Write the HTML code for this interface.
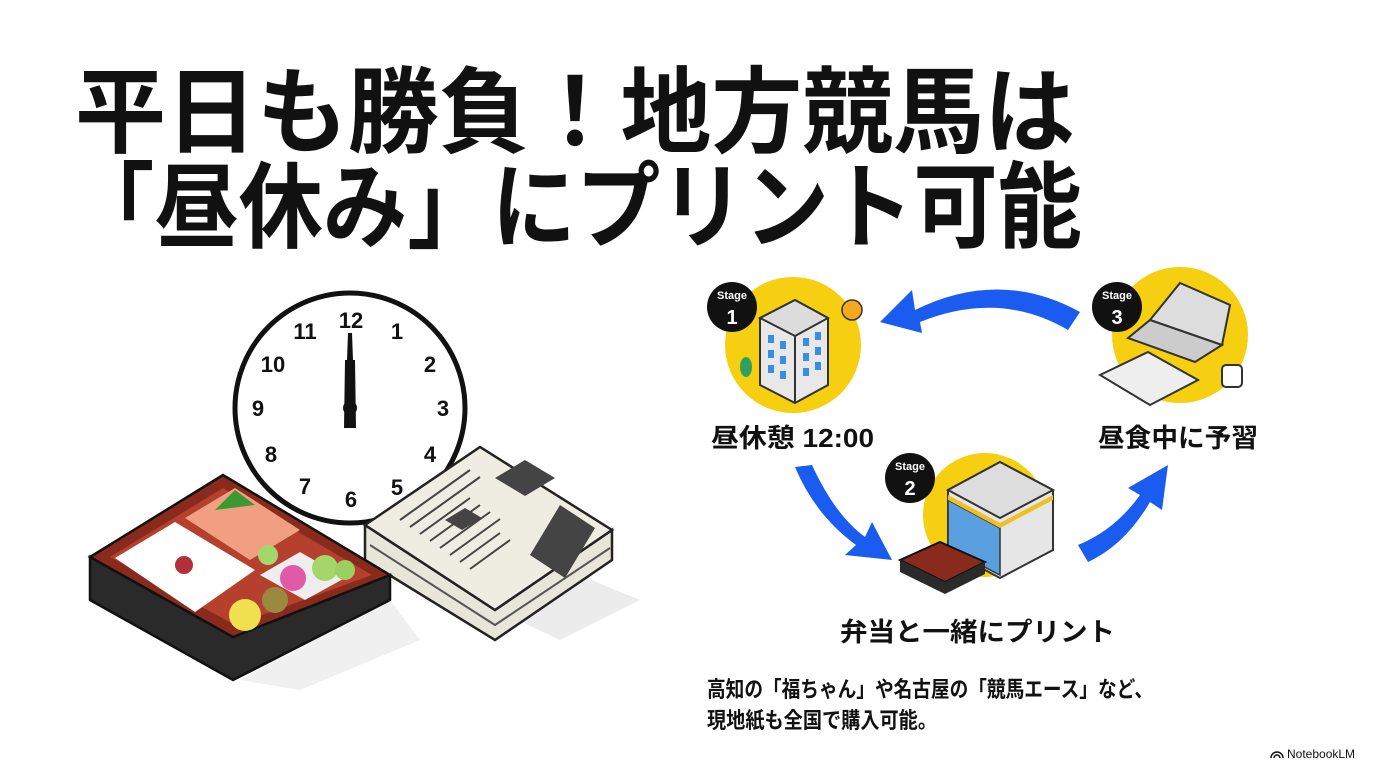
<!DOCTYPE html>
<html><head><meta charset="utf-8"><style>
html,body{margin:0;padding:0;background:#fff;}
svg{display:block;}
text{font-family:"Liberation Sans","Noto Sans CJK JP",sans-serif;font-weight:bold;fill:#111;}
</style></head><body>
<svg width="1376" height="768" viewBox="0 0 1376 768" xmlns="http://www.w3.org/2000/svg">
<rect width="1376" height="768" fill="#fff"/>
<!-- Title -->
<text x="75" y="145" font-size="94" textLength="1000" lengthAdjust="spacingAndGlyphs">平日も勝負！地方競馬は</text>
<text x="70" y="240" font-size="94" textLength="1012" lengthAdjust="spacingAndGlyphs">「昼休み」にプリント可能</text>

<!-- shadows -->
<polygon points="390,560 470,530 640,600 560,640" fill="#ececec"/>
<polygon points="240,680 390,600 420,640 300,690" fill="#f0f0f0"/>
<!-- Clock -->
<circle cx="350" cy="408" r="115" fill="#fff" stroke="#111" stroke-width="5"/>
<g font-size="22" text-anchor="middle">
<text x="351" y="328">12</text><text x="397" y="339">1</text><text x="430" y="372">2</text>
<text x="443" y="416">3</text><text x="430" y="462">4</text><text x="397" y="495">5</text>
<text x="351" y="507">6</text><text x="305" y="494">7</text><text x="271" y="462">8</text>
<text x="258" y="416">9</text><text x="273" y="372">10</text><text x="305" y="339">11</text>
</g>
<polygon points="348,333 352,333 353,360 355,360 356,428 344,428 345,360 347,360" fill="#111"/>
<circle cx="350" cy="408" r="7" fill="#111"/>

<!-- Newspaper -->
<polygon points="365,525 365,560 495,640 612,560 612,530 495,610" fill="#e8e6d8" stroke="#222" stroke-width="2.5"/>
<path d="M370,545 L495,625 L610,548" fill="none" stroke="#555" stroke-width="2"/>
<polygon points="365,525 480,447 612,530 495,610" fill="#efede2" stroke="#222" stroke-width="2.5"/>
<g stroke="#444" stroke-width="2">
<line x1="400" y1="520" x2="470" y2="470"/><line x1="410" y1="527" x2="480" y2="477"/>
<line x1="420" y1="534" x2="470" y2="498"/><line x1="430" y1="541" x2="480" y2="505"/>
<line x1="440" y1="548" x2="490" y2="512"/><line x1="450" y1="555" x2="500" y2="519"/>
<line x1="460" y1="562" x2="500" y2="533"/><line x1="470" y1="569" x2="510" y2="540"/>
</g>
<polygon points="495,478 525,460 555,478 525,496" fill="#444"/>
<polygon points="445,520 465,508 482,518 462,530" fill="#444"/>
<polygon points="530,555 560,505 595,528 565,578" fill="#444"/>

<!-- Bento -->
<polygon points="90,557 90,600 233,680 390,600 390,575 233,637" fill="#2a2a2a" stroke="#111" stroke-width="2.5"/>
<polygon points="90,557 223,475 390,575 233,637" fill="#8a2a1c" stroke="#111" stroke-width="2.5"/>
<polygon points="110,557 223,488 372,575 235,625" fill="#b5402e"/>
<polygon points="115,558 175,522 255,570 195,612" fill="#fff"/>
<circle cx="184" cy="565" r="9" fill="#b2303a"/>
<polygon points="185,518 235,488 300,530 250,560" fill="#f0a080"/>
<polygon points="235,490 215,510 255,505" fill="#3a9a30"/>
<polygon points="260,575 300,552 345,578 305,600" fill="#eee"/>
<circle cx="293" cy="578" r="13" fill="#e05aa8"/><circle cx="325" cy="568" r="13" fill="#a5d66a"/><circle cx="345" cy="570" r="10" fill="#9ad060"/>
<circle cx="245" cy="615" r="16" fill="#f0e050"/><circle cx="275" cy="600" r="13" fill="#9a8a40"/>
<circle cx="268" cy="555" r="10" fill="#a5d66a"/>

<!-- Right diagram circles -->
<circle cx="793" cy="345" r="68" fill="#f5cf10"/>
<circle cx="1180" cy="335" r="68" fill="#f5cf10"/>
<circle cx="985" cy="515" r="62" fill="#f5cf10"/>

<!-- building -->
<polygon points="760,318 795,300 828,318 828,385 795,403 760,385" fill="#e8e8e8" stroke="#333" stroke-width="2"/>
<polygon points="760,318 795,300 828,318 795,336" fill="#dcdcdc" stroke="#333" stroke-width="2"/>
<line x1="795" y1="336" x2="795" y2="403" stroke="#333" stroke-width="2"/>
<g fill="#3a8ee0"><rect x="768" y="335" width="6" height="8"/><rect x="780" y="341" width="6" height="8"/><rect x="768" y="350" width="6" height="8"/><rect x="780" y="356" width="6" height="8"/><rect x="768" y="365" width="6" height="8"/><rect x="780" y="371" width="6" height="8"/><rect x="803" y="338" width="6" height="8"/><rect x="815" y="332" width="6" height="8"/><rect x="803" y="353" width="6" height="8"/><rect x="815" y="347" width="6" height="8"/><rect x="803" y="368" width="6" height="8"/><rect x="815" y="362" width="6" height="8"/></g>
<ellipse cx="746" cy="367" rx="6" ry="10" fill="#2fa060"/>
<circle cx="852" cy="310" r="10" fill="#f5a820" stroke="#333" stroke-width="1.5"/>
<!-- laptop -->
<polygon points="1150,320 1180,283 1230,305 1222,345" fill="#ddd" stroke="#333" stroke-width="2"/>
<polygon points="1150,320 1222,345 1195,362 1128,338" fill="#ccc" stroke="#333" stroke-width="2"/>
<polygon points="1100,375 1148,352 1198,380 1150,405" fill="#eee" stroke="#333" stroke-width="2"/>
<rect x="1222" y="365" width="20" height="22" rx="4" fill="#fff" stroke="#333" stroke-width="2"/>
<!-- store -->
<polygon points="948,490 1000,462 1053,490 1053,550 1000,578 948,550" fill="#e6e6e6" stroke="#333" stroke-width="2"/>
<polygon points="948,490 1000,462 1053,490 1000,518" fill="#ddd" stroke="#333" stroke-width="2"/>
<polygon points="948,500 1000,528 1000,575 948,548" fill="#5aa0e0" stroke="#333" stroke-width="1.5"/>
<polygon points="948,495 1000,523 1053,495 1053,500 1000,528 948,500" fill="#f0c020"/>
<polygon points="900,560 940,542 985,562 945,582" fill="#8a2a1c" stroke="#111" stroke-width="2"/>
<polygon points="900,560 900,572 945,594 985,574 985,562 945,582" fill="#2a2a2a"/>

<!-- Badges -->
<g text-anchor="middle" font-weight="bold">
<circle cx="732" cy="307" r="25" fill="#111"/><text x="732" y="299" font-size="11" style="fill:#fff">Stage</text><text x="732" y="324" font-size="20" style="fill:#fff">1</text>
<circle cx="1117" cy="307" r="25" fill="#111"/><text x="1117" y="299" font-size="11" style="fill:#fff">Stage</text><text x="1117" y="324" font-size="20" style="fill:#fff">3</text>
<circle cx="910" cy="478" r="25" fill="#111"/><text x="910" y="470" font-size="11" style="fill:#fff">Stage</text><text x="910" y="495" font-size="20" style="fill:#fff">2</text>
</g>

<!-- Arrows -->
<g fill="#1a5cf0">
<path d="M1080,312 Q1000,268 915,310 L912,290 L880,322 L922,333 L920,322 Q1000,290 1068,330 Z"/>
<path d="M795,467 L812,465 Q835,515 865,537 L872,522 L892,560 L845,555 L856,545 Q815,515 795,467 Z"/>
<path d="M1078,545 Q1115,530 1140,495 L1128,488 L1168,465 L1162,510 L1150,502 Q1125,545 1088,562 Z"/>
</g>

<!-- Labels -->
<text x="711" y="447" font-size="26" textLength="163" lengthAdjust="spacingAndGlyphs">昼休憩 12:00</text>
<text x="1098" y="447" font-size="26" textLength="160" lengthAdjust="spacingAndGlyphs">昼食中に予習</text>
<text x="840" y="641" font-size="26" textLength="275" lengthAdjust="spacingAndGlyphs">弁当と一緒にプリント</text>
<text x="707" y="697" font-size="22" textLength="446" lengthAdjust="spacingAndGlyphs">高知の「福ちゃん」や名古屋の「競馬エース」など、</text>
<text x="707" y="728" font-size="22" textLength="230" lengthAdjust="spacingAndGlyphs">現地紙も全国で購入可能。</text>
<text x="1287" y="758" font-size="12" style="font-weight:normal">NotebookLM</text>
<path d="M1271,758 a6,6 0 0 1 12,0 M1274,758 a3,3 0 0 1 6,0" fill="none" stroke="#111" stroke-width="1.5"/>
</svg>
</body></html>
